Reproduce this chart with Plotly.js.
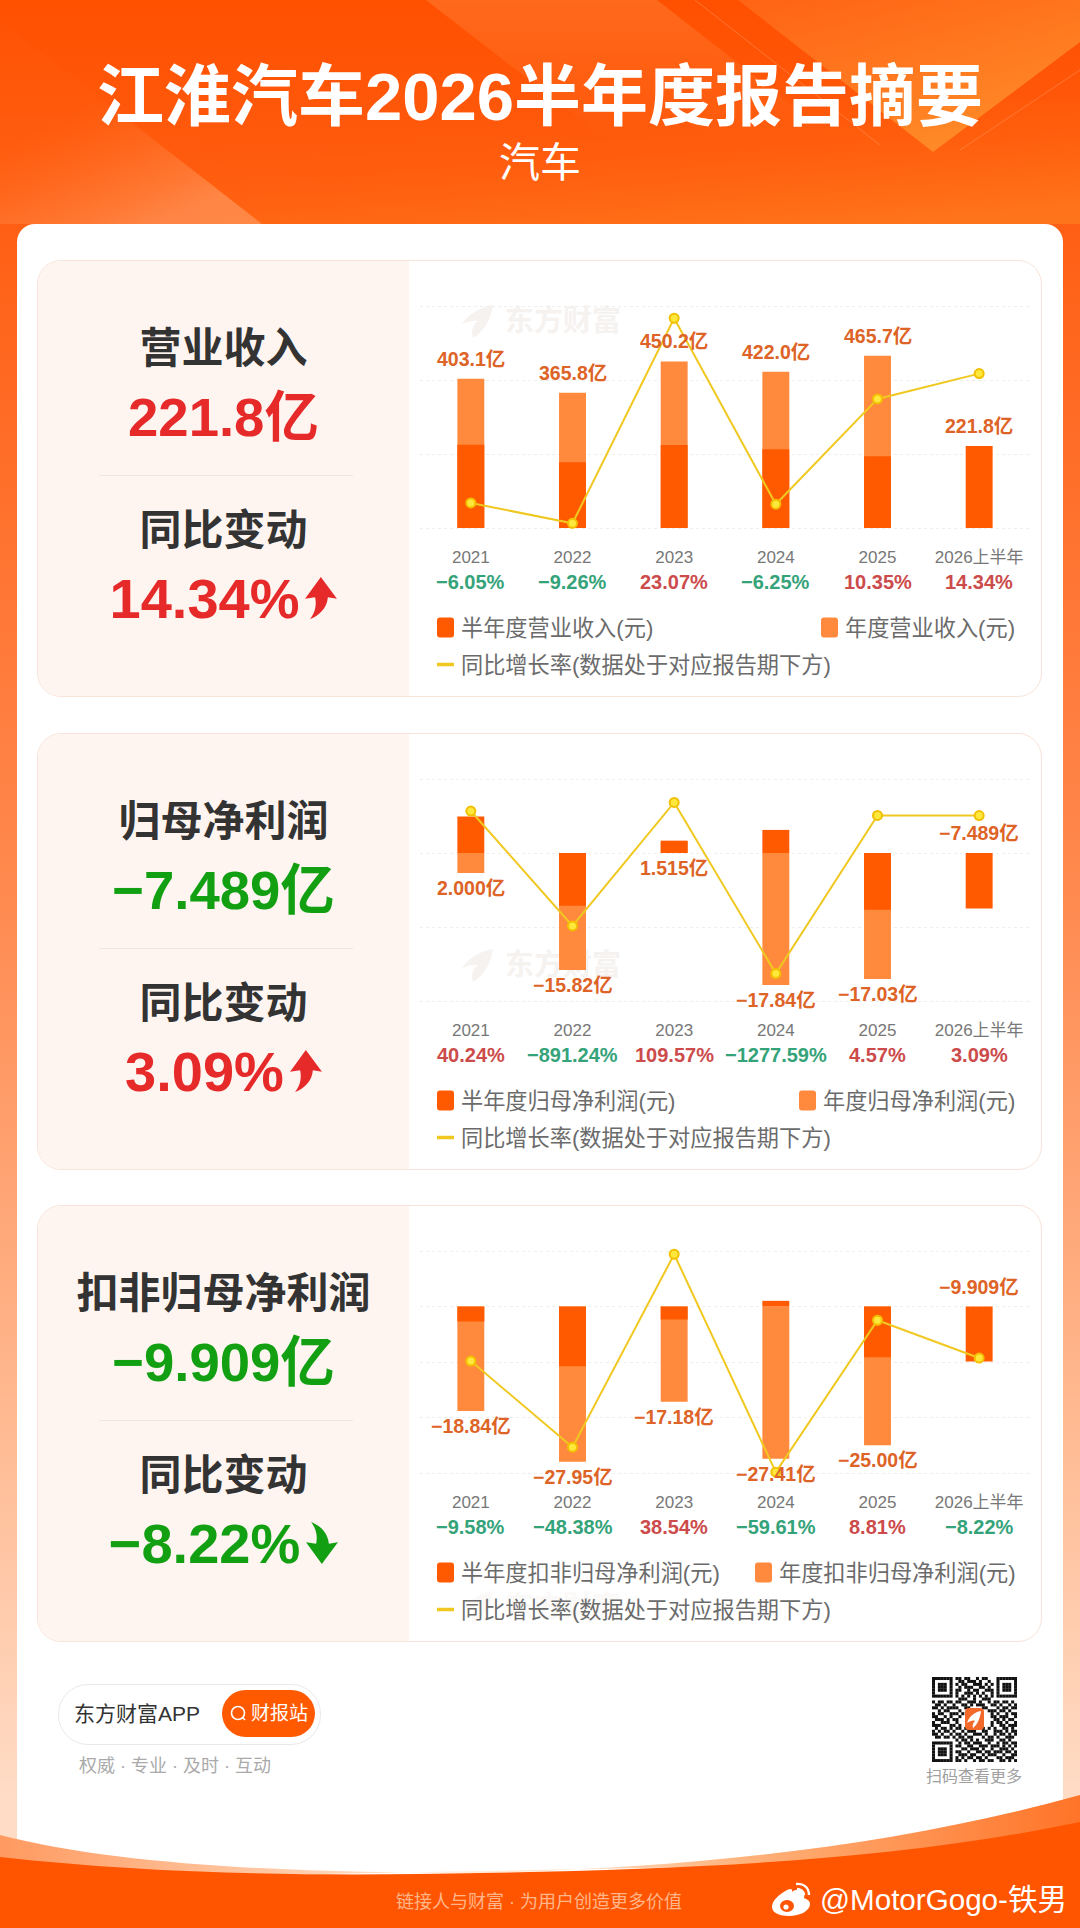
<!DOCTYPE html>
<html>
<head>
<meta charset="utf-8">
<script src="https://cdn.plot.ly/plotly-3.0.1.min.js"></script>
<style>
html, body { margin: 0; padding: 0; background: #fff; }
#page { position: relative; width: 1080px; height: 1928px; overflow: hidden;
	font-family: "Liberation Sans", "Noto Sans CJK SC", sans-serif;
	background: linear-gradient(180deg, #ff5000 0, #ff5f14 224px, #ff8a50 900px, #ffb88f 1400px, #ffdcc6 1800px); }
#page > * { position: absolute; }
.abs, .panel > * { position: absolute; }
.center { left: 0; width: 100%; text-align: center; white-space: nowrap; line-height: 1; }
#card { left: 17px; width: 1046px; top: 224px; height: 1680px; background: #fff; border-radius: 18px; }
#panels { left: 0; top: 0; width: 1080px; height: 1928px; }
.panel { position: absolute; left: 37px; width: 1003px; height: 435px; background: #fff; border: 1px solid #f8e4d8; border-radius: 24px; overflow: hidden; }
.panelLeft { left: 0; top: 0; width: 371px; height: 100%; background: #fef5f1; }
.kpi { left: 0; width: 371px; text-align: center; white-space: nowrap; line-height: 1; font-weight: 700; transform: translateY(-50%); }
.rule { left: 61px; width: 254px; top: 214px; height: 1px; background: #eee5e0; }
.wm { color: #f5f2f0; font-size: 29px; font-weight: 700; line-height: 1; letter-spacing: 0; }
.chart { left: 372px; top: -1px; width: 632px; height: 437px; }
</style>
</head>
<body>
<div id="page">
	<svg class="abs" style="left:0;top:0" width="1080" height="224">
		<defs>
			<linearGradient id="hdrA" x1="0" y1="0" x2="0.6" y2="1"><stop offset="0.45" stop-color="#ff7a2c" stop-opacity="0.05"/><stop offset="1" stop-color="#ff9a60" stop-opacity="0.65"/></linearGradient>
			<linearGradient id="hdrB" x1="0" y1="0" x2="0.7" y2="1"><stop offset="0" stop-color="#ff7c2a" stop-opacity="0.45"/><stop offset="1" stop-color="#ff8f28" stop-opacity="0.95"/></linearGradient>
			<linearGradient id="hdrC" x1="0.2" y1="0" x2="0.8" y2="1"><stop offset="0" stop-color="#ff5000" stop-opacity="0"/><stop offset="1" stop-color="#ff7a1c" stop-opacity="0.8"/></linearGradient>
			<linearGradient id="hdrD" x1="0" y1="0" x2="0" y2="1"><stop offset="0" stop-color="#ff7a30" stop-opacity="0.6"/><stop offset="1" stop-color="#ff7a30" stop-opacity="0"/></linearGradient>
		</defs>
		<rect x="200" y="100" width="880" height="124" fill="url(#hdrC)"/>
		<polygon points="10,28 262,224 0,224 0,20" fill="url(#hdrA)"/>
		<polygon points="426,0 657,0 830,135 600,135" fill="url(#hdrD)"/>
		<polygon points="738,0 933,152 1080,42 1080,0" fill="url(#hdrB)"/>
		<polyline points="695,0 880,145" stroke="#ff9a60" stroke-width="1" fill="none" opacity="0.5"/>
		<polyline points="960,150 1080,70" stroke="#ff9a60" stroke-width="1" fill="none" opacity="0.5"/>
	</svg>
	<div class="center" style="top:63px;font-size:67px;font-weight:700;color:#fff">江淮汽车2026半年度报告摘要</div>
	<div class="center" style="top:143px;font-size:41px;color:#fff">汽车</div>
	<div id="card"></div>
	<div id="panels"></div>

	<div class="abs" style="left:58px;top:1684px;width:261px;height:59px;border:1px solid #e9e9e9;border-radius:30px;background:#fff"></div>
	<div class="abs" style="left:74px;top:1703px;font-size:21px;line-height:1;color:#333">东方财富APP</div>
	<div class="abs" style="left:222px;top:1690px;width:93px;height:47px;border-radius:24px;background:#ff5a00"></div>
	<svg class="abs" style="left:229px;top:1704px" width="20" height="20"><circle cx="9" cy="9" r="6.5" fill="none" stroke="#fff" stroke-width="1.6"/><line x1="13.5" y1="13.5" x2="16" y2="16" stroke="#fff" stroke-width="1.6"/></svg>
	<div class="abs" style="left:251px;top:1704px;font-size:19px;line-height:1;color:#fff">财报站</div>
	<div class="abs" style="left:79px;top:1757px;font-size:18px;line-height:1;color:#aaa;white-space:pre">权威 · 专业 · 及时 · 互动</div>
	<svg id="qr" class="abs" style="left:932px;top:1677px" width="85" height="85"></svg>
	<div class="abs" style="left:926px;top:1769px;font-size:16px;line-height:1;color:#a0a0a0">扫码查看更多</div>

	<svg class="abs" style="left:0;top:1780px" width="1080" height="148" viewBox="0 1780 1080 148">
		<defs><linearGradient id="wave" x1="0" y1="0" x2="1" y2="0"><stop offset="0" stop-color="#ff9a60"/><stop offset="0.45" stop-color="#ffeedd"/><stop offset="0.7" stop-color="#ffb078"/><stop offset="1" stop-color="#ff7428"/></linearGradient></defs>
		<path d="M0 1835 C120 1866 300 1873 480 1873 C700 1868 900 1845 1080 1795 L1080 1860 L0 1880 Z" fill="url(#wave)"/>
		<path d="M0 1857 C170 1876 340 1876 480 1873 C700 1869 900 1860 1080 1822 L1080 1928 L0 1928 Z" fill="#ff5500"/>
		<g fill="#fff">
			<path d="M787 1890 c-9 5 -15 11 -15 17 c0 6 8 9 17 9 c11 0 21 -5 21 -12 c0 -4 -4 -5 -6 -6 c1 -4 1 -7 -3 -8 c-3 -1 -7 0 -9 2 c1 -3 -1 -4 -5 -2 z"/>
			<path d="M796 1884 c7 -1 13 3 13 11" fill="none" stroke="#fff" stroke-width="2.4"/>
			<path d="M797 1889 c3 0 7 2 7 6" fill="none" stroke="#fff" stroke-width="2.4"/>
		</g>
		<ellipse cx="787" cy="1906" rx="7" ry="6" fill="#ff5500"/>
		<circle cx="786" cy="1907" r="2.6" fill="#fff"/>
	</svg>
	<div class="abs" style="left:396px;top:1893px;font-size:18px;line-height:1;color:#ffb58a;white-space:nowrap">链接人与财富 · 为用户创造更多价值</div>
	<div class="abs" style="left:820px;top:1885px;font-size:29.6px;line-height:1;color:#fff;white-space:nowrap">@MotorGogo-铁男</div>
</div>

<script>
// shared categories
var years = ["2021", "2022", "2023", "2024", "2025", "2026上半年"];
var xIndex = [0, 1, 2, 3, 4, 5];

// 营业收入 (亿)
var revenueHalf = [225, 178, 224, 213, 194, 221.8];
var revenueYear = [403.1, 365.8, 450.2, 422.0, 465.7, null];
var revenueRate = [-6.05, -9.26, 23.07, -6.25, 10.35, 14.34];
var revenueLabels = ["403.1亿", "365.8亿", "450.2亿", "422.0亿", "465.7亿", "221.8亿"];

// 归母净利润 (亿)
var profitHalf = [4.93, -7.14, 1.67, 3.12, -7.68, -7.489];
var profitYear = [-2.7, -15.82, 1.515, -17.84, -17.03, null];
var profitRate = [40.24, -891.24, 109.57, -1277.59, 4.57, 3.09];
var profitLabels = ["2.000亿", "−15.82亿", "1.515亿", "−17.84亿", "−17.03亿", "−7.489亿"];
var profitAnchors = [-2.7, -15.82, 0, -17.84, -17.03, 0];

// 扣非归母净利润 (亿)
var coreHalf = [-2.7, -10.76, -2.34, 1.02, -9.13, -9.909];
var coreYear = [-18.84, -27.95, -17.18, -27.41, -25.00, null];
var coreRate = [-9.58, -48.38, 38.54, -59.61, 8.81, -8.22];
var coreLabels = ["−18.84亿", "−27.95亿", "−17.18亿", "−27.41亿", "−25.00亿", "−9.909亿"];
var coreAnchors = [-18.84, -27.95, -17.18, -27.41, -25.00, 0];

var panels = [
	{ name: "营业收入", value: "221.8亿", yoy: "14.34%", up: true, valueUp: true, half: revenueHalf, year: revenueYear, rate: revenueRate,
		labels: revenueLabels, anchors: revenueYear.map(function (v, i) { return v === null ? revenueHalf[i] : v; }), above: [1, 1, 1, 1, 1, 1],
		range: [0, 600], dtick: 200, rateRange: [-10, 25], wmTop: 46, wmOpacity: 1 },
	{ name: "归母净利润", value: "−7.489亿", yoy: "3.09%", up: true, valueUp: false, half: profitHalf, year: profitYear, rate: profitRate,
		labels: profitLabels, anchors: profitAnchors, above: [0, 0, 0, 0, 0, 1],
		range: [-20, 10], dtick: 10, rateRange: [-1500, 300], wmTop: 217, wmOpacity: 1 },
	{ name: "扣非归母净利润", value: "−9.909亿", yoy: "−8.22%", up: false, valueUp: false, half: coreHalf, year: coreYear, rate: coreRate,
		labels: coreLabels, anchors: coreAnchors, above: [0, 0, 0, 0, 0, 1],
		range: [-30, 10], dtick: 10, rateRange: [-60, 40], wmTop: 387, wmOpacity: 0.45 }
];

var RED = "#e62a2a", GREEN = "#12a012";
var FONT = '"Liberation Sans", "Noto Sans CJK SC", sans-serif';

function arrowSvg(up) {
	var flip = up ? "" : "transform:scaleY(-1);";
	var col = up ? RED : GREEN;
	return '<svg style="margin-left:6px;vertical-align:-1px;' + flip + '" width="32" height="42" viewBox="0 0 95 125"><path fill="' + col + '" d="M47 0 L95 65 L68 60 C65 95 40 115 15 125 C30 105 35 85 30 60 L0 65 Z"/></svg>';
}

function rateText(v) {
	return (v < 0 ? "−" : "") + Math.abs(v).toFixed(2) + "%";
}

// legend keys in the reference are short bars, the stock ones are too small
function restyleLegend(div) {
	div.querySelectorAll(".legendlines path").forEach(function (el) {
		el.setAttribute("d", "M16,0h17");
		el.style.strokeWidth = "3.5px";
	});
	div.querySelectorAll(".legendpoints path").forEach(function (el) {
		if (el.classList.contains("scatterpts")) {
			el.parentNode.removeChild(el);
			return;
		}
		el.setAttribute("transform", "translate(0,0)");
		el.setAttribute("d", "M19,-10H30Q33,-10 33,-7V7Q33,10 30,10H19Q16,10 16,7V-7Q16,-10 19,-10Z");
	});
}

// plotly drops gridlines that sit within a pixel of the plot edge, so pad the range by 2px
function padRange(r, plotH) {
	var pad = (r[1] - r[0]) * 2 / plotH;
	return [r[0] - pad, r[1] + pad];
}

function drawPanel(p, i) {
	var top = 260 + 472.5 * i;
	var box = document.createElement("div");
	box.className = "panel";
	box.style.top = top + "px";
	var html = '<div class="panelLeft"></div>';
	html += '<div class="kpi" style="top:88px;font-size:42px;color:#333">' + p.name + '</div>';
	html += '<div class="kpi" style="top:157px;font-size:54.5px;color:' + (p.valueUp ? RED : GREEN) + '">' + p.value + '</div>';
	html += '<div class="rule"></div>';
	html += '<div class="kpi" style="top:270px;font-size:42px;color:#333">同比变动</div>';
	html += '<div class="kpi" style="top:338px;font-size:56px;color:' + (p.up ? RED : GREEN) + '">' + p.yoy + arrowSvg(p.up) + '</div>';
	html += '<svg style="left:423px;top:' + (p.wmTop - 3) + 'px;opacity:' + p.wmOpacity + '" width="34" height="36"><path fill="#f5f2f0" d="M32 1 C18 3 6 12 1 20 C8 17 13 16 17 17 C12 21 10 26 12 34 C22 28 30 16 32 1 Z"/></svg>';
	html += '<div class="wm" style="left:467px;top:' + p.wmTop + 'px;opacity:' + p.wmOpacity + '">东方财富</div>';
	html += '<div class="chart" id="chart' + i + '"></div>';
	box.innerHTML = html;
	document.getElementById("panels").appendChild(box);

	var plotH = 222.5, plotW = 610, marginT = 45.7;
	var marginL = 10;
	var outerH = plotH + 4, outerT = marginT - 2;

	var traces = [
		{ type: "bar", x: xIndex, y: p.year, name: "年度" + p.name + "(元)", width: 0.265, yaxis: "y",
			marker: { color: "#ff8a3d" }, legend: "legend2", hoverinfo: "skip" },
		{ type: "bar", x: xIndex, y: p.half, name: "半年度" + p.name + "(元)", width: 0.265, yaxis: "y",
			marker: { color: "#ff5a00" }, legend: "legend", hoverinfo: "skip" },
		{ type: "scatter", mode: "lines+markers", x: xIndex, y: p.rate, name: "同比增长率(数据处于对应报告期下方)", yaxis: "y2", cliponaxis: false,
			line: { color: "#f0c820", width: 2 },
			marker: { color: "#ffe83c", size: 9, line: { color: "#f2c000", width: 2 } }, legend: "legend3", hoverinfo: "skip" }
	];

	var notes = [];
	for (var k = 0; k < years.length; k++) {
		// value label above or below the bar end
		notes.push({ x: xIndex[k], y: p.anchors[k], xref: "x", yref: "y", text: p.labels[k], showarrow: false,
			yanchor: "middle", yshift: p.above[k] ? 20 : -15,
			font: { size: 19.5, color: "#dd6326", weight: 700 } });
		// yoy rate under the year
		notes.push({ x: xIndex[k], y: 0, xref: "x", yref: "paper", text: rateText(p.rate[k]), showarrow: false,
			yanchor: "middle", yshift: -52,
			font: { size: 20, color: p.rate[k] < 0 ? "#35a37a" : "#cc4b4b", weight: 700 } });
	}

	function legendBox(x, y, anchor) {
		return { x: (x - 420) / plotW, y: 1 - (y - (260 + outerT)) / outerH, xanchor: anchor, yanchor: "middle",
			bgcolor: "rgba(0,0,0,0)", borderwidth: 0, font: { size: 22.2, color: "#6b6b6b" } };
	}

	var layout = {
		width: 632, height: 437,
		margin: { l: marginL, r: 632 - marginL - plotW, t: outerT, b: 437 - outerT - outerH },
		paper_bgcolor: "rgba(0,0,0,0)", plot_bgcolor: "rgba(0,0,0,0)",
		font: { family: FONT },
		barmode: "overlay",
		showlegend: true,
		legend: legendBox(421, 628, "left"),
		legend2: legendBox(1021, 628, "right"),
		legend3: legendBox(421, 665, "left"),
		xaxis: { range: [-0.5, 5.5], tickmode: "array", tickvals: xIndex, ticktext: years, showgrid: false, zeroline: false, showline: false,
			ticks: "", ticklabelstandoff: 15, tickfont: { size: 17, color: "#777" } },
		yaxis: { range: padRange(p.range, plotH), tick0: p.range[0], dtick: p.dtick, showticklabels: false, ticks: "", showline: false, zeroline: false,
			showgrid: true, gridcolor: "#eeeeee", griddash: "dot", gridwidth: 1 },
		yaxis2: { range: padRange(p.rateRange, plotH), overlaying: "y", side: "right", visible: false, showgrid: false, zeroline: false },
		annotations: notes
	};

	var div = document.getElementById("chart" + i);
	Plotly.newPlot(div, traces, layout, { staticPlot: true, displayModeBar: false }).then(function () {
		restyleLegend(div);
	});
}

panels.forEach(drawPanel);

// decorative qr block
var qrRows = [
	"11111110110110010110001111111",
	"10000010011011101001001000001",
	"10111010101100111010101011101",
	"10111010010111001101001011101",
	"10111010110010110011101011101",
	"10000010100111010100101000001",
	"11111110101010101010101111111",
	"00000000011100100111000000000",
	"10110110110011101001011011010",
	"01101001001101011100110100101",
	"11010111100110000110001011011",
	"00101100010000000001110110100",
	"10110011101000000000101001011",
	"11001010010000000000110111001",
	"01110101100000000000011010110",
	"10011100100000000000101101001",
	"11100011010000000000100110111",
	"01011010110110000101010011010",
	"10101101001011100110011101011",
	"11010010110100111010010110101",
	"01101101011011000101101001110",
	"00000000101101010011100110100",
	"11111110010110111001001011011",
	"10000010110011001110111010101",
	"10111010001101110100100111010",
	"10111010110010011011011101101",
	"10111010011101100101110010011",
	"10000010101011011010001101110",
	"11111110110100101101100110101"
];
var qrSvg = "";
var cell = 85 / qrRows.length;
qrRows.forEach(function (row, r) {
	for (var c = 0; c < row.length; c++) {
		if (row[c] === "1") qrSvg += '<rect x="' + c * cell + '" y="' + r * cell + '" width="' + (cell + 0.1) + '" height="' + (cell + 0.1) + '" fill="#111"/>';
	}
});
qrSvg += '<rect x="33" y="31" width="19" height="22" rx="4" fill="#f2692a"/>';
qrSvg += '<path d="M49 34 C42 35 37 40 35 46 C38 44 41 43 43 44 C41 46 40 48 41 51 C45 48 48 42 49 34Z" fill="#fff"/>';
document.getElementById("qr").innerHTML = qrSvg;
</script>
</body>
</html>
